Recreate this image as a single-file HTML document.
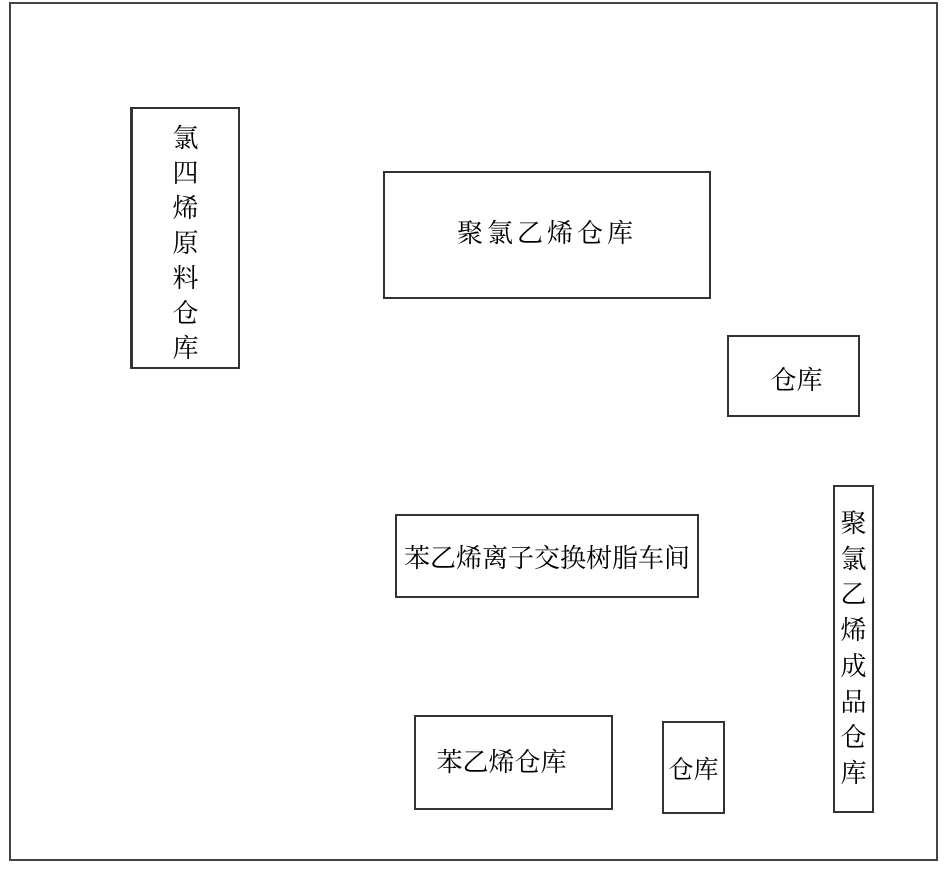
<!DOCTYPE html>
<html><head><meta charset="utf-8"><style>
body{margin:0;width:947px;height:883px;background:#fff;position:relative;overflow:hidden;font-family:"Liberation Serif","Noto Serif CJK SC",serif;color:#000}
.b{position:absolute;border:2px solid #333;box-sizing:border-box;display:flex;align-items:center;justify-content:center;font-size:26px;white-space:nowrap}
.v{flex-direction:column;justify-content:flex-start}
.v span{display:block;text-align:center}
</style></head><body>
<div class="b" style="left:9px;top:2px;width:929px;height:859px;border-color:#444"></div>
<div class="b v" style="left:130px;top:107px;width:110px;height:262px;padding-top:12px;border-left-width:3px"><span style="line-height:35px">氯<br>四<br>烯<br>原<br>料<br>仓<br>库</span></div>
<div class="b" style="left:383px;top:171px;width:328px;height:128px;letter-spacing:4px;padding-bottom:8px">聚氯乙烯仓库</div>
<div class="b" style="left:727px;top:335px;width:133px;height:82px;padding-left:6px;padding-top:4px">仓库</div>
<div class="b v" style="left:833px;top:485px;width:41px;height:328px;padding-top:19px"><span style="line-height:35.7px">聚<br>氯<br>乙<br>烯<br>成<br>品<br>仓<br>库</span></div>
<div class="b" style="left:395px;top:514px;width:304px;height:84px">苯乙烯离子交换树脂车间</div>
<div class="b" style="left:414px;top:715px;width:199px;height:95px;padding-right:24px;padding-bottom:4px">苯乙烯仓库</div>
<div class="b" style="left:662px;top:721px;width:63px;height:93px;font-size:25px">仓库</div>
</body></html>
